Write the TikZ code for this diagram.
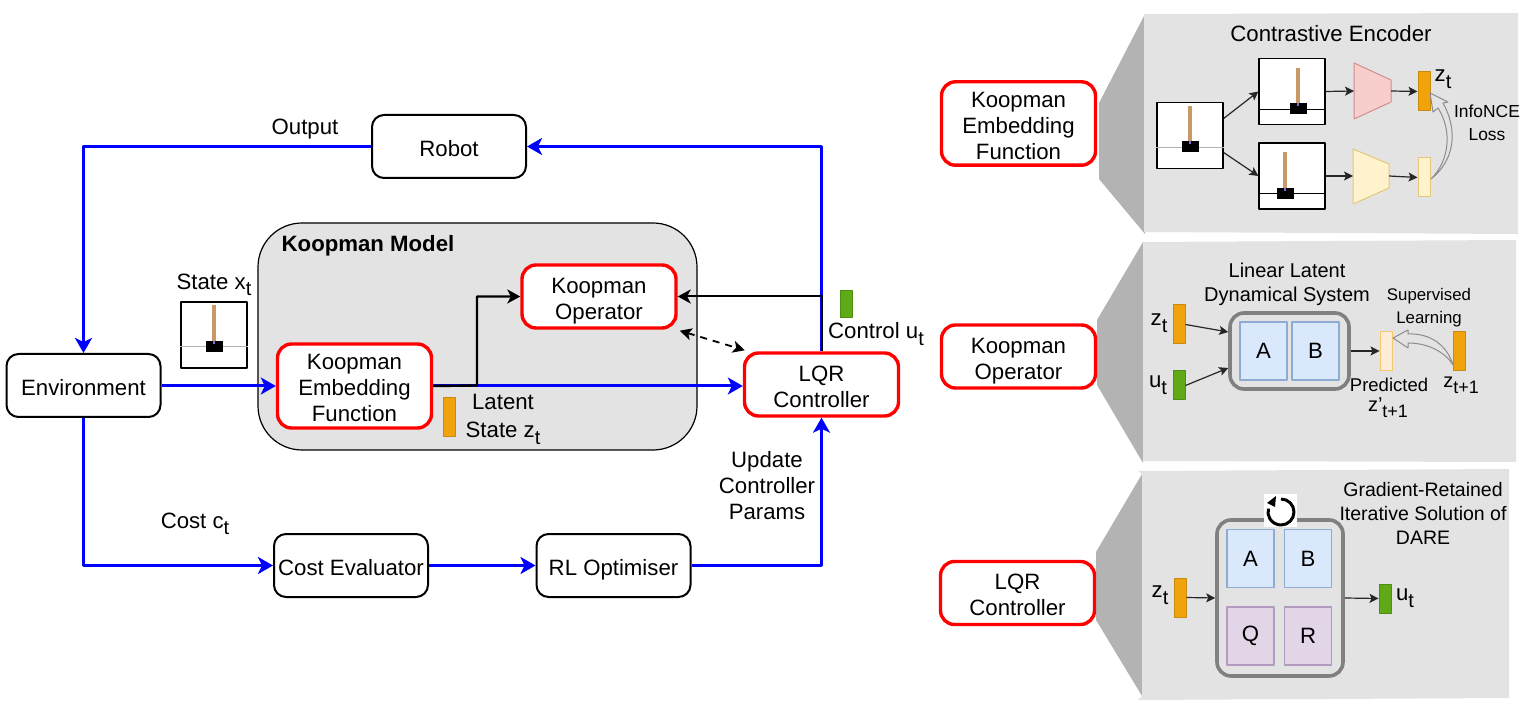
\documentclass[tikz,border=0pt]{standalone}
\usepackage{fontspec}
\setmainfont{Liberation Sans}
\usetikzlibrary{positioning,arrows.meta}
\definecolor{panelgray}{HTML}{E3E3E3}
\definecolor{wedgegray}{HTML}{B3B3B3}
\definecolor{polecol}{HTML}{C99A68}
\definecolor{orangefill}{HTML}{F0A30A}
\definecolor{orangeline}{HTML}{C98A10}
\definecolor{greenfill}{HTML}{60A917}
\definecolor{greenline}{HTML}{4C8F12}
\definecolor{palefill}{HTML}{FFF2CC}
\definecolor{paleline}{HTML}{E3C878}
\definecolor{pinkfill}{HTML}{F8CECC}
\definecolor{pinkline}{HTML}{CF8F8C}
\definecolor{bluefill}{HTML}{DAE8FC}
\definecolor{blueline}{HTML}{8EABD3}
\definecolor{purplefill}{HTML}{E1D5E7}
\definecolor{purpleline}{HTML}{B39BC0}
\newcommand{\lowt}[1]{\raisebox{-.55ex}{\scalebox{.9}{#1}}}
\newcommand{\boxtext}[1]{\rule{0pt}{12.7pt}#1\rule[-3pt]{0pt}{3pt}}
% box of the cart and pole: name, x, y, shift of the cart, shift of the rail, colour of the rail
\newcommand{\cartbox}[6]{
	\node[cartframe] (#1) at (#2,#3) {};
	\fill[polecol] (#2+#4-1.7,#3-29.5+#5) rectangle (#2+#4+1.7,#3+9+#5);
	\draw[#6,line width=.4pt] (#1.west |- 0,#3+11.5+#5) -- (#1.east |- 0,#3+11.5+#5);
	\fill (#2+#4-8.5,#3+6+#5) rectangle (#2+#4+8.5,#3+17+#5);
	\fill[violet!50!blue!60] (#2+#4-1.2,#3+6+#5) rectangle (#2+#4+1.2,#3+9+#5);
}
\tikzset{
	mainfont/.style={font=\fontsize{11.1}{13}\selectfont},
	blackbox/.style={draw,line width=1pt,rounded corners=6pt,fill=white,align=center,mainfont,minimum width=77pt,minimum height=31.5pt,inner sep=0pt},
	redbox/.style={blackbox,draw=red,line width=1.7pt,rounded corners=7pt},
	cartframe/.style={draw,line width=.6pt,fill=white,minimum size=33pt,inner sep=0pt},
	panel/.style={fill=panelgray},
	wedge/.style={fill=wedgegray},
	matbox/.style={draw=gray,line width=1.8pt,rounded corners=7pt,inner sep=0pt},
	cell/.style={line width=.7pt,minimum width=23.5pt,minimum height=29pt,inner sep=0pt,mainfont},
	bluecell/.style={cell,draw=blueline,fill=bluefill},
	purplecell/.style={cell,draw=purpleline,fill=purplefill},
	barbox/.style={line width=.5pt,minimum width=6pt,inner sep=0pt},
	orangebar/.style={barbox,draw=orangeline,fill=orangefill,minimum height=19.5pt},
	greenbar/.style={barbox,draw=greenline,fill=greenfill},
	palebar/.style={barbox,draw=paleline,fill=palefill,minimum height=19.5pt},
	txt/.style={mainfont,align=center,inner sep=0pt},
	smalltxt/.style={font=\fontsize{#1}{11.5}\selectfont,align=center,inner sep=0pt},
	bluearrow/.style={-{Stealth[length=7.5pt,width=8.5pt,inset=2pt]},blue,line width=1.5pt},
	blackarrow/.style={-{Stealth[length=6.5pt,width=7pt,inset=1.8pt]},black,line width=1.2pt},
	thinarrow/.style={-{Stealth[length=4.5pt,width=4.5pt,inset=1pt]},black!85,line width=.6pt},
	hollow/.style={draw=gray!90,line width=.5pt,fill=panelgray},
}
\begin{document}
\begin{tikzpicture}[x=.5pt,y=-.5pt,line join=round]
	\useasboundingbox (0,0) rectangle (1524,715);
	% the loop on the left
	\node[draw,line width=.6pt,fill=panelgray,rounded corners=22pt,minimum width=219.5pt,minimum height=113.5pt] (model) at (477.5,336.5) {};
	\node[txt,font=\fontsize{11.1}{13}\selectfont\bfseries] (modeltitle) at (368,245.5) {Koopman Model};
	\node[blackbox] (robot) at (449,146.5) {\boxtext{Robot}};
	\node[blackbox] (env) at (83.5,385.5) {\boxtext{Environment}};
	\node[redbox] (operator) at (599,296.5) {\boxtext{Koopman\\Operator}};
	\node[redbox,minimum height=42pt] (embed) at (354.5,386) {\boxtext{Koopman\\Embedding\\Function}};
	\node[redbox] (lqr) at (821.5,384.5) {\boxtext{LQR\\Controller}};
	\node[blackbox] (cost) at (351,565.5) {\boxtext{Cost Evaluator}};
	\node[blackbox] (rl) at (613.5,565.5) {\boxtext{RL Optimiser}};
	\coordinate (corner1) at (lqr.north |- robot.east);
	\coordinate (corner2) at (env.north |- robot.west);
	\coordinate (corner3) at (env.south |- cost.west);
	\coordinate (corner4) at (lqr.south |- rl.east);
	\coordinate (branch1) at (477,385.5);
	\coordinate (branch2) at (lqr.north |- operator.east);
	\draw[bluearrow] (robot.west) -- (corner2) -- (env.north);
	\draw[bluearrow] (lqr.north) -- (corner1) -- (robot.east);
	\draw[bluearrow] (env.east |- embed.west) -- (embed.west);
	\draw[bluearrow] (embed.east) -- (lqr.west |- embed.east);
	\draw[bluearrow] (env.south) -- (corner3) -- (cost.west);
	\draw[bluearrow] (cost.east) -- (rl.west);
	\draw[bluearrow] (rl.east) -- (corner4) -- (lqr.south);
	\draw[blackarrow] (embed.east) -- (branch1) |- (operator.west);
	\draw[blackarrow,line width=1pt] (lqr.north) -- (branch2) -- (operator.east);
	\draw[{Stealth[length=6pt,width=6pt,inset=1.5pt]}-{Stealth[length=6pt,width=6pt,inset=1.5pt]},line width=.9pt,dash pattern=on 3.5pt off 3pt] ([shift={(1pt,-.5pt)}]operator.south east) -- ([shift={(1pt,.5pt)}]lqr.north west);
	\cartbox{statecart}{214}{335}{0}{0}{gray!60}
	\node[orangebar] (latentbar) at (449.5,417.5) {};
	\node[greenbar,minimum height=13.5pt] (controlbar) at (846,304.5) {};
	\node[txt] (outputlbl) at (305,129) {Output};
	\node[txt] (statelbl) at (214,285) {State x\lowt{t}};
	\node[txt] (costlbl) at (195,524) {Cost c\lowt{t}};
	\node[txt] (controllbl) at (876,334) {Control u\lowt{t}};
	\node[txt] (latentlbl) at (503,419.5) {Latent\\[1pt]State z\lowt{t}};
	\node[txt] (updatelbl) at (767,485.5) {Update\\Controller\\Params};
	% first panel
	\fill[wedge] (1145,14) -- (1099,103) -- (1099,179) -- (1145,234) -- cycle;
	\fill[panel] (1144,14) -- (1518,13) -- (1518,234) -- (1144,232) -- cycle;
	\node[redbox,minimum height=41.5pt] (embedright) at (1018.5,123.5) {\boxtext{Koopman\\Embedding\\Function}};
	\node[txt] (encodertitle) at (1331,34) {Contrastive Encoder};
	\cartbox{bigcart}{1190}{135.5}{0}{0}{gray!60}
	\cartbox{topcart}{1292}{91.5}{6}{6}{black}
	\cartbox{botcart}{1292}{176}{-7}{6}{black}
	\coordinate (pinkin) at (1354,91);
	\coordinate (pinkout) at (1391,91);
	\coordinate (yellowin) at (1353,176);
	\coordinate (yellowout) at (1389,176);
	\filldraw[draw=pinkline,fill=pinkfill,line width=.5pt] (1354,63) -- (1391,80) -- (1391,102) -- (1354,119) -- cycle;
	\filldraw[draw=paleline,fill=palefill,line width=.5pt] (1353,149) -- (1389,164) -- (1389,188) -- (1353,204) -- cycle;
	\node[orangebar] (ztbar) at (1424,91.5) {};
	\node[palebar] (keybar) at (1424,177.5) {};
	\draw[thinarrow] ([yshift=8.5pt]bigcart.east) -- ([yshift=0pt]topcart.west);
	\draw[thinarrow] ([yshift=-8.5pt]bigcart.east) -- ([yshift=0pt]botcart.west);
	\draw[thinarrow] (topcart.east) -- (pinkin);
	\draw[thinarrow] (botcart.east) -- (yellowin);
	\draw[thinarrow] (pinkout) -- (ztbar.west);
	\draw[thinarrow] (yellowout) -- (keybar.west);
	\draw[hollow] (1431,179) .. controls (1455,160) and (1458,130) .. (1443,103) -- (1448,102) -- (1430,93) -- (1433,112) -- (1438,108) .. controls (1452,130) and (1450,160) .. (1431,179);
	\node[txt] (ztlbl) at (1443,79) {z\lowt{t}};
	\node[smalltxt=8.7] (infolbl) at (1487,122.5) {InfoNCE\\Loss};
	% second panel
	\fill[wedge] (1143,242) -- (1097,320) -- (1097,385) -- (1143,463) -- cycle;
	\fill[panel] (1143,242) -- (1516,240) -- (1516,462) -- (1143,461) -- cycle;
	\node[redbox] (operatorright) at (1018.5,356.5) {\boxtext{Koopman\\Operator}};
	\node[smalltxt=10] (dynlbl) at (1287,284) {Linear Latent\\[.5pt]Dynamical System};
	\node[matbox,minimum width=59.5pt,minimum height=38pt] (dynbox) at (1289.5,351) {};
	\node[bluecell] (dyna) at (1263.5,351) {A};
	\node[bluecell] (dynb) at (1315.5,351) {B};
	\node[orangebar] (ztin) at (1179,324.5) {};
	\node[greenbar,minimum height=14.5pt] (utin) at (1179,385.5) {};
	\node[palebar,draw=orangefill!60,fill=orange!15!white] (predbar) at (1386,351) {};
	\node[orangebar] (nextbar) at (1459,351) {};
	\node[txt] (ztinlbl) at (1159,323) {z\lowt{t}};
	\node[txt] (utinlbl) at (1158,385) {u\lowt{t}};
	\draw[thinarrow] (ztin.east) -- ([yshift=9.5pt]dynbox.west);
	\draw[thinarrow] (utin.east) -- ([yshift=-8.5pt]dynbox.west);
	\draw[thinarrow] (dynbox.east) -- (predbar.west);
	\draw[hollow] (1453,365) .. controls (1447,345) and (1430,333) .. (1408,334) -- (1408,330) -- (1393,338) -- (1408,348) -- (1408,343) .. controls (1428,343) and (1445,352) .. (1453,365);
	\node[smalltxt=8.4] (suplbl) at (1429,307.5) {Supervised\\Learning};
	\node[smalltxt=9.25] (predlbl) at (1389,385) {Predicted};
	\node[smalltxt=10] (primelbl) at (1388,408) {z'\lowt{t+1}};
	\node[smalltxt=10] (nextlbl) at (1461,385) {z\lowt{t+1}};
	% third panel
	\fill[wedge] (1142,474) -- (1096,552) -- (1096,620) -- (1142,696) -- cycle;
	\fill[panel] (1138,471) -- (1509,469) -- (1509,698) -- (1138,700) -- (1142,696) -- (1142,474) -- cycle;
	\node[redbox] (lqrright) at (1017.5,593) {\boxtext{LQR\\Controller}};
	\node[matbox,minimum width=63pt,minimum height=78pt] (darebox) at (1280,598) {};
	\node[bluecell] (darea) at (1250.5,558.5) {A};
	\node[bluecell] (dareb) at (1308,558.5) {B};
	\node[purplecell] (dareq) at (1250.5,636) {Q};
	\node[purplecell] (darer) at (1308,636) {R};
	\node[fill=white,minimum size=16.5pt,inner sep=0pt] (loopicon) at (1280.5,510) {};
	\draw[line width=1.5pt] (1281,499) arc[start angle=90,end angle=-195,radius=6.5pt];
	\fill (1276,496) -- (1275,507) -- (1267,503) -- cycle;
	\node[orangebar] (ztdare) at (1180,597.5) {};
	\node[greenbar,minimum height=14.5pt] (utdare) at (1385,598.5) {};
	\draw[thinarrow] (ztdare.east) -- (darebox.west);
	\draw[thinarrow] (darebox.east) -- (utdare.west);
	\node[txt] (ztdarelbl) at (1160,595) {z\lowt{t}};
	\node[txt] (utdarelbl) at (1405,598) {u\lowt{t}};
	\node[smalltxt=9.75] (darelbl) at (1423,513.5) {Gradient-Retained\\[.3pt]Iterative Solution of\\[.3pt]DARE};
\end{tikzpicture}
\end{document}
